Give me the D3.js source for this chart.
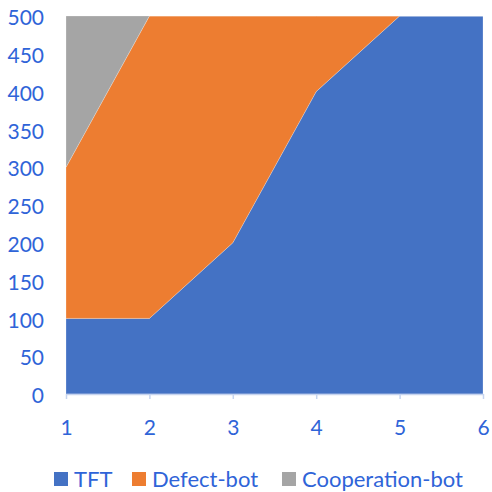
<!DOCTYPE html>
<html lang="en">
<meta charset="utf-8">
<style>
  body { margin: 0; background: #fff; }
  text { font-family: Lato, 'Open Sans', sans-serif; fill: #2f64d8; }
</style>
<script src="https://d3js.org/d3.v7.min.js"></script>
<body>
<div id="chart"></div>
<script>
  // data
  var xs = [1, 2, 3, 4, 5, 6];
  var tft = [100, 100, 200, 400, 500, 500];
  var defect = [200, 400, 300, 100, 0, 0];
  var coop = [200, 0, 0, 0, 0, 0];
  var seriesNames = ["TFT", "Defect-bot", "Cooperation-bot"];
  var colors = ["#4472c4", "#ed7d31", "#a5a5a5"];
  var yTicks = [0, 50, 100, 150, 200, 250, 300, 350, 400, 450, 500];

  var w = 492, h = 492;
  var svg = d3.select("#chart").append("svg")
    .attr("width", w).attr("height", h);

  var x = d3.scaleLinear().domain([1, 6]).range([66, 483]);
  var y = d3.scaleLinear().domain([0, 500]).range([394, 16]);

  var rows = xs.map((d, i) => ({x: d, TFT: tft[i], "Defect-bot": defect[i], "Cooperation-bot": coop[i]}));
  var stacked = d3.stack().keys(seriesNames)(rows);

  var area = d3.area()
    .x(d => x(d.data.x))
    .y0(d => y(d[0]))
    .y1(d => y(Math.min(d[1], 500)));

  svg.selectAll("path.area")
    .data(stacked)
    .enter().append("path")
      .attr("class", "area")
      .attr("d", area)
      .attr("fill", (d, i) => colors[i])
      .attr("stroke", "#fff")
      .attr("stroke-width", 0.4)
      .attr("stroke-opacity", 0.6);

  // x axis
  var xa = svg.append("g")
    .attr("transform", "translate(0," + y(0) + ")")
    .call(d3.axisBottom(x).tickValues(xs).tickSize(5).tickSizeOuter(0).tickPadding(21).tickFormat(d3.format("d")));
  xa.select(".domain").attr("stroke", "#c6d4ef").attr("stroke-width", 1.5);
  xa.selectAll(".tick line").attr("stroke", "#c6d4ef").attr("stroke-width", 1.5);
  xa.selectAll("text").style("font-size", "21px").attr("fill", "#2f64d8");

  // y axis labels
  var ya = svg.append("g")
    .attr("transform", "translate(" + x(1) + ",2)")
    .call(d3.axisLeft(y).tickValues(yTicks).tickSize(0).tickPadding(22));
  ya.select(".domain").remove();
  ya.selectAll("text").style("font-size", "21px").attr("fill", "#2f64d8");

  // legend
  var legX = [54, 132, 282];
  var leg = svg.append("g");
  seriesNames.forEach((s, i) => {
    leg.append("rect")
      .attr("x", legX[i]).attr("y", 472)
      .attr("width", 14).attr("height", 14)
      .attr("fill", colors[i]);
    leg.append("text")
      .attr("x", legX[i] + 20).attr("y", 487)
      .style("font-size", "22px")
      .text(s);
  });
</script>
</body>
</html>
